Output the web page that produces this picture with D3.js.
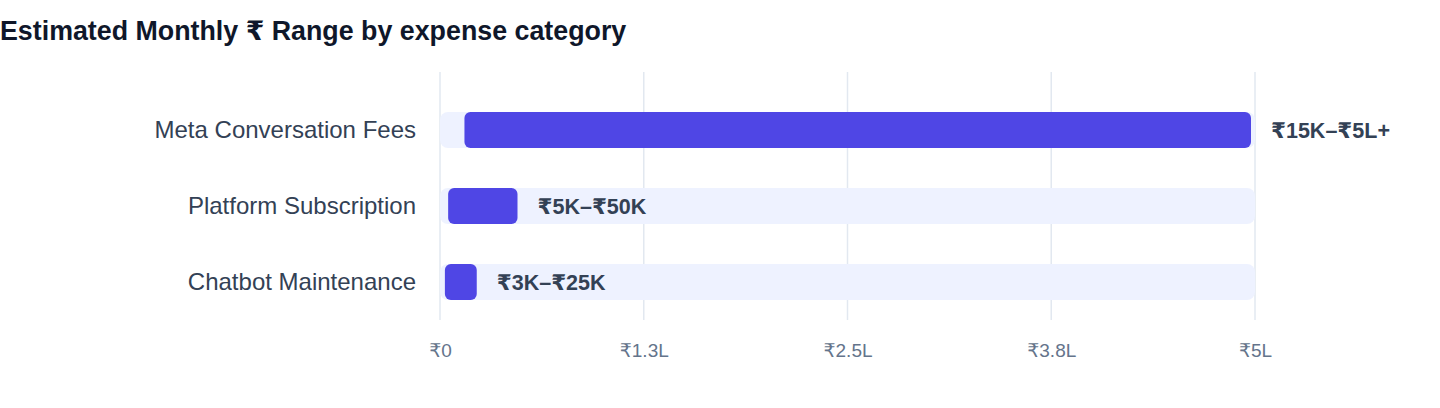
<!DOCTYPE html>
<html>
<head>
<meta charset="utf-8">
<script src="https://cdn.jsdelivr.net/npm/d3@7"></script>
<style>
  body { margin: 0; background: #fff; font-family: "Liberation Sans", Arial, "DejaVu Sans", sans-serif; }
</style>
</head>
<body>
<div id="chart"></div>
<script>
const categories = ["Meta Conversation Fees", "Platform Subscription", "Chatbot Maintenance"];
const lowValues = [15000, 5000, 3000];
const highValues = [500000, 50000, 25000];
const rangeLabels = ["₹15K–₹5L+", "₹5K–₹50K", "₹3K–₹25K"];
const tickValues = [0, 125000, 250000, 375000, 500000];
const tickLabels = ["₹0", "₹1.3L", "₹2.5L", "₹3.8L", "₹5L"];

const width = 1440, height = 408;
const margin = {top: 92, right: 185, bottom: 88, left: 440};

const svg = d3.select("#chart").append("svg")
    .attr("width", width)
    .attr("height", height);

// Title
svg.append("text")
    .attr("x", 0)
    .attr("y", 40)
    .attr("font-size", 26.8)
    .attr("font-weight", "bold")
    .attr("fill", "#0f172a")
    .text("Estimated Monthly ₹ Range by expense category");

const x = d3.scaleLinear()
    .domain([0, 500000])
    .range([margin.left, width - margin.right]);

const y = d3.scaleBand()
    .domain(categories)
    .range([margin.top, height - margin.bottom])
    .paddingInner(0.526)
    .paddingOuter(0.263);

// Gridlines
svg.append("g")
    .selectAll("line")
    .data(tickValues)
    .enter().append("line")
    .attr("x1", d => x(d))
    .attr("x2", d => x(d))
    .attr("y1", margin.top - 20)
    .attr("y2", height - margin.bottom)
    .attr("stroke", "#e2e8f0")
    .attr("stroke-width", 1.5);

// x axis labels
const xAxis = svg.append("g")
    .attr("transform", `translate(0,${height - margin.bottom + 20})`)
    .call(d3.axisBottom(x).tickValues(tickValues).tickFormat((d, i) => tickLabels[i]).tickSize(0));
xAxis.select(".domain").remove();
xAxis.selectAll("text")
    .attr("font-family", "\"Liberation Sans\", Arial, \"DejaVu Sans\", sans-serif")
    .attr("font-size", 19)
    .attr("fill", "#64748b");

// Category labels
svg.append("g")
    .selectAll("text")
    .data(categories)
    .enter().append("text")
    .attr("x", margin.left - 24)
    .attr("y", d => y(d) + y.bandwidth() / 2)
    .attr("dy", "0.35em")
    .attr("text-anchor", "end")
    .attr("font-size", 24)
    .attr("fill", "#334155")
    .text(d => d);

// Background tracks
svg.append("g")
    .selectAll("rect")
    .data(categories)
    .enter().append("rect")
    .attr("x", x(0))
    .attr("y", d => y(d))
    .attr("width", x(500000) - x(0))
    .attr("height", y.bandwidth())
    .attr("rx", 8)
    .attr("fill", "#eef2ff");

// Range bars
const rows = categories.map((c, i) => ({cat: c, lo: lowValues[i], hi: highValues[i], label: rangeLabels[i]}));

svg.append("g")
    .selectAll("rect")
    .data(rows)
    .enter().append("rect")
    .attr("x", d => x(d.lo))
    .attr("y", d => y(d.cat))
    .attr("width", d => x(d.hi) - x(d.lo) - 4)
    .attr("height", y.bandwidth())
    .attr("rx", 6)
    .attr("fill", "#4f46e5");

// Range labels
svg.append("g")
    .selectAll("text")
    .data(rows)
    .enter().append("text")
    .attr("x", d => x(d.hi) - 4 + 20)
    .attr("y", d => y(d.cat) + y.bandwidth() / 2)
    .attr("dy", "0.35em")
    .attr("font-size", 21.5)
    .attr("font-weight", "bold")
    .attr("fill", "#334155")
    .text(d => d.label);
</script>
</body>
</html>
